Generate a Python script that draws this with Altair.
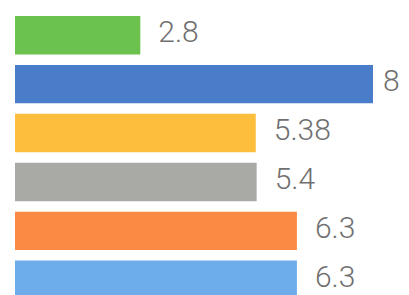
import altair as alt
import pandas as pd

categories = ["A", "B", "C", "D", "E", "F"]
values = [2.8, 8, 5.38, 5.4, 6.3, 6.3]
labels = ["2.8", "8", "5.38", "5.4", "6.3", "6.3"]
colors = ["#6cc24f", "#4a7dc9", "#fcbe3c", "#a9aaa5", "#fb8a45", "#6dadec"]

df = pd.DataFrame({"cat": categories, "value": values, "label": labels})

y = alt.Y("cat:N", sort=categories, axis=None,
          scale=alt.Scale(paddingInner=0.214, paddingOuter=0.163))
x = alt.X("value:Q", axis=None, scale=alt.Scale(domain=[0, 8], nice=False, zero=True))

bars = alt.Chart(df).mark_bar().encode(
    x=x, y=y,
    color=alt.Color("cat:N", scale=alt.Scale(domain=categories, range=colors), legend=None),
)

text_style = dict(align="left", baseline="middle", dy=-2,
                  fontSize=30, font="Roboto", fontWeight=300, color="#707070")

text = alt.Chart(df).transform_filter(alt.datum.value < 8).mark_text(
    dx=18, **text_style
).encode(x=x, y=y, text="label:N")

text_max = alt.Chart(df).transform_filter(alt.datum.value >= 8).mark_text(
    dx=10, **text_style
).encode(x=x, y=y, text="label:N")

chart = (bars + text + text_max).properties(
    width=358, height=299,
    background="white",
    padding={"left": 7, "top": 0, "right": 28, "bottom": 0},
    autosize=alt.AutoSizeParams(type="none"),
).configure_view(stroke=None)

chart.save("out.html", embed_options={"renderer": "svg", "actions": False})
